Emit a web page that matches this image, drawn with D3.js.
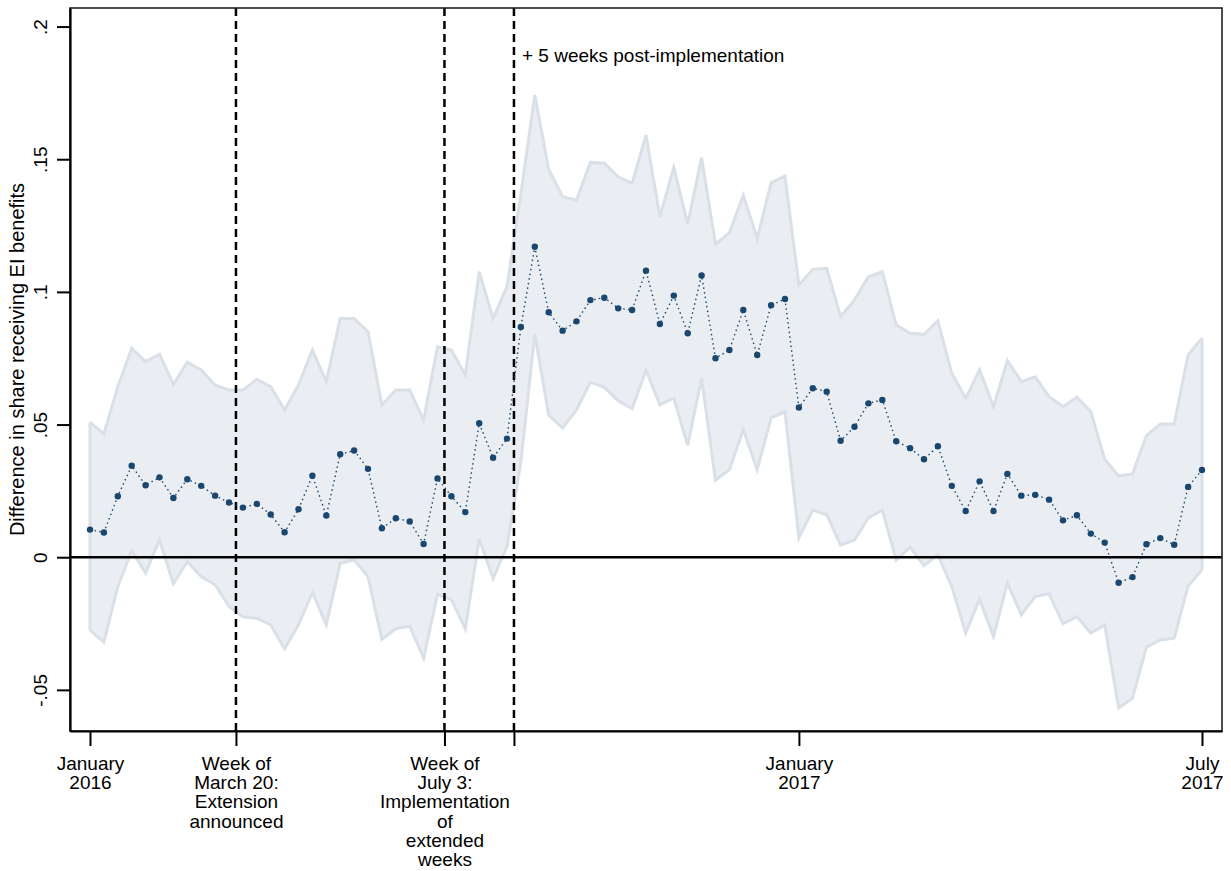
<!DOCTYPE html>
<html>
<head>
<meta charset="utf-8">
<script src="https://cdn.jsdelivr.net/npm/d3@7"></script>
<style>
  html, body { margin: 0; padding: 0; background: #fff; }
  svg { display: block; font-family: "Liberation Sans", Arial, sans-serif; }
</style>
</head>
<body>
<svg id="chart" width="1231" height="871"></svg>
<script>
// Weekly difference in the share receiving EI benefits, Jan 2016 – Jul 2017
const estimate = [
  0.0104, 0.0093, 0.0230, 0.0345, 0.0271, 0.0301, 0.0223, 0.0294, 0.0269, 0.0232,
  0.0206, 0.0187, 0.0201, 0.0161, 0.0094, 0.0181, 0.0307, 0.0157, 0.0388, 0.0402,
  0.0333, 0.0109, 0.0147, 0.0135, 0.0050, 0.0297, 0.0230, 0.0170, 0.0505, 0.0375,
  0.0447, 0.0868, 0.1170, 0.0923, 0.0854, 0.0889, 0.0969, 0.0978, 0.0938, 0.0932,
  0.1080, 0.0879, 0.0986, 0.0844, 0.1062, 0.0750, 0.0781, 0.0932, 0.0762, 0.0950,
  0.0973, 0.0564, 0.0637, 0.0624, 0.0439, 0.0492, 0.0580, 0.0593, 0.0437, 0.0411,
  0.0369, 0.0418, 0.0269, 0.0174, 0.0286, 0.0174, 0.0314, 0.0232, 0.0235, 0.0217,
  0.0139, 0.0158, 0.0089, 0.0055, -0.0096, -0.0075, 0.0049, 0.0072, 0.0047, 0.0265,
  0.0329
];

// Upper bound of the confidence interval
const ciHigh = [
  0.0509, 0.0465, 0.0643, 0.0787, 0.0737, 0.0765, 0.0652, 0.0735, 0.0706, 0.0649,
  0.0630, 0.0630, 0.0671, 0.0643, 0.0555, 0.0649, 0.0781, 0.0662, 0.0900, 0.0900,
  0.0850, 0.0574, 0.0630, 0.0630, 0.0517, 0.0793, 0.0781, 0.0687, 0.1076, 0.0900,
  0.1020, 0.1370, 0.1742, 0.1462, 0.1359, 0.1346, 0.1488, 0.1485, 0.1434, 0.1409,
  0.1591, 0.1283, 0.1469, 0.1256, 0.1506, 0.1180, 0.1223, 0.1365, 0.1201, 0.1411,
  0.1437, 0.1026, 0.1085, 0.1089, 0.0907, 0.0970, 0.1057, 0.1076, 0.0875, 0.0844,
  0.0840, 0.0891, 0.0693, 0.0599, 0.0706, 0.0567, 0.0741, 0.0662, 0.0680, 0.0605,
  0.0567, 0.0603, 0.0549, 0.0369, 0.0306, 0.0314, 0.0458, 0.0502, 0.0502, 0.0762,
  0.0825
];

// Lower bound of the confidence interval
const ciLow = [
  -0.0275, -0.0320, -0.0111, 0.0025, -0.0060, 0.0065, -0.0100, -0.0017, -0.0073, -0.0104,
  -0.0186, -0.0225, -0.0230, -0.0255, -0.0345, -0.0255, -0.0133, -0.0255, -0.0023, -0.0010,
  -0.0073, -0.0310, -0.0270, -0.0260, -0.0380, -0.0140, -0.0160, -0.0270, 0.0070, -0.0080,
  0.0040, 0.0360, 0.0841, 0.0535, 0.0487, 0.0555, 0.0660, 0.0640, 0.0590, 0.0560,
  0.0705, 0.0574, 0.0600, 0.0422, 0.0675, 0.0290, 0.0330, 0.0480, 0.0330, 0.0525,
  0.0548, 0.0073, 0.0178, 0.0160, 0.0046, 0.0065, 0.0148, 0.0178, -0.0010, 0.0038,
  -0.0032, 0.0009, -0.0111, -0.0286, -0.0158, -0.0299, -0.0098, -0.0217, -0.0148, -0.0138,
  -0.0251, -0.0224, -0.0286, -0.0255, -0.0569, -0.0531, -0.0339, -0.0312, -0.0305, -0.0108,
  -0.0048
];

// Y axis ticks
const yTicks = [-0.05, 0, 0.05, 0.1, 0.15, 0.2];
const yTickLabels = ["-.05", "0", ".05", ".1", ".15", ".2"];

// X axis ticks (in weeks since the first week of January 2016)
const xTicks = [0, 10.5, 25.5, 30.5, 51, 80];
const xTickLabels = [
  ["January", "2016"],
  ["Week of", "March 20:", "Extension", "announced"],
  ["Week of", "July 3:", "Implementation", "of", "extended", "weeks"],
  [],
  ["January", "2017"],
  ["July", "2017"]
];

// Policy event markers (dashed vertical lines)
const eventWeeks = [10.5, 25.5, 30.5];
const eventNote = "+ 5 weeks post-implementation";

const yTitle = "Difference in share receiving EI benefits";

const svg = d3.select("#chart");
const plot = { left: 70, right: 1222, top: 8, bottom: 731 };

const x = d3.scaleLinear()
  .domain([-20 / 13.9, 1132 / 13.9])
  .range([plot.left, plot.right]);
const y = d3.scaleLinear()
  .domain([-0.0655, 0.207])
  .range([plot.bottom, plot.top]);

const weeks = d3.range(estimate.length);
const rows = weeks.map(i => ({ w: i, est: estimate[i], lo: ciLow[i], hi: ciHigh[i] }));

svg.append("clipPath").attr("id", "plotclip")
  .append("rect")
  .attr("x", plot.left).attr("y", plot.top)
  .attr("width", plot.right - plot.left).attr("height", plot.bottom - plot.top);

const g = svg.append("g").attr("clip-path", "url(#plotclip)");

// Confidence band
g.append("path")
  .datum(rows)
  .attr("d", d3.area().x(d => x(d.w)).y0(d => y(d.lo)).y1(d => y(d.hi)))
  .attr("fill", "#eaeef2")
  .attr("stroke", "none");
["hi", "lo"].forEach(k => {
  g.append("path")
    .datum(rows)
    .attr("d", d3.line().x(d => x(d.w)).y(d => y(d[k])))
    .attr("fill", "none")
    .attr("stroke", "#d9e0e7")
    .attr("stroke-width", 3)
    .attr("stroke-linejoin", "miter");
});
// closing edges of the band
g.selectAll("line.bandedge")
  .data([rows[0], rows[rows.length - 1]])
  .join("line")
  .attr("class", "bandedge")
  .attr("x1", d => x(d.w)).attr("x2", d => x(d.w))
  .attr("y1", d => y(d.lo)).attr("y2", d => y(d.hi))
  .attr("stroke", "#d9e0e7").attr("stroke-width", 3);

// Zero reference line
g.append("line")
  .attr("x1", plot.left).attr("x2", plot.right)
  .attr("y1", y(0)).attr("y2", y(0))
  .attr("stroke", "#000").attr("stroke-width", 2.4);

// Event lines
g.selectAll("line.event")
  .data(eventWeeks)
  .join("line")
  .attr("class", "event")
  .attr("x1", d => x(d)).attr("x2", d => x(d))
  .attr("y1", plot.top).attr("y2", plot.bottom)
  .attr("stroke", "#000").attr("stroke-width", 2.5)
  .attr("stroke-dasharray", "8,5");

// Dotted connecting line and point markers
g.append("path")
  .datum(rows)
  .attr("d", d3.line().x(d => x(d.w)).y(d => y(d.est)))
  .attr("fill", "none")
  .attr("stroke", "#1a476f")
  .attr("stroke-width", 1.4)
  .attr("stroke-dasharray", "1.5,3.2");
g.selectAll("circle")
  .data(rows)
  .join("circle")
  .attr("cx", d => x(d.w)).attr("cy", d => y(d.est))
  .attr("r", 3.2)
  .attr("fill", "#1a476f");

// Plot frame
svg.append("rect")
  .attr("x", plot.left).attr("y", plot.top)
  .attr("width", plot.right - plot.left).attr("height", plot.bottom - plot.top)
  .attr("fill", "none").attr("stroke", "#222").attr("stroke-width", 1.6);

// Y axis
const yAxis = d3.axisLeft(y)
  .tickValues(yTicks)
  .tickSize(13)
  .tickSizeOuter(0)
  .tickFormat((d, i) => yTickLabels[i]);
const ya = svg.append("g").attr("transform", `translate(${plot.left},0)`).call(yAxis);
ya.select(".domain").attr("stroke", "#000").attr("stroke-width", 2.2);
ya.selectAll(".tick line").attr("stroke", "#000").attr("stroke-width", 2);
ya.selectAll(".tick text")
  .attr("x", null).attr("dy", null)
  .attr("transform", "translate(-23,0) rotate(-90)")
  .attr("text-anchor", "middle")
  .attr("fill", "#000")
  .style("font-size", "19px")
  .style("font-family", "'Liberation Sans', Arial, sans-serif");

// X axis
const xAxis = d3.axisBottom(x)
  .tickValues(xTicks)
  .tickSize(15)
  .tickSizeOuter(0)
  .tickFormat("");
const xa = svg.append("g").attr("transform", `translate(0,${plot.bottom})`).call(xAxis);
xa.select(".domain").attr("stroke", "#000").attr("stroke-width", 2.2);
xa.selectAll(".tick line").attr("stroke", "#000").attr("stroke-width", 2);
xa.selectAll(".tick").each(function (d, i) {
  const t = d3.select(this).append("text")
    .attr("text-anchor", "middle")
    .attr("fill", "#000")
    .style("font-size", "19px")
    .style("font-family", "'Liberation Sans', Arial, sans-serif");
  xTickLabels[i].forEach((line, j) => {
    t.append("tspan").attr("x", 0).attr("y", 39 + j * 19.2).text(line);
  });
});

// Event annotation
svg.append("text")
  .attr("x", x(eventWeeks[2]) + 8)
  .attr("y", 62)
  .attr("fill", "#000")
  .style("font-size", "19px")
  .text(eventNote);

// Y axis title
svg.append("text")
  .attr("transform", `translate(24,${(plot.top + plot.bottom) / 2 - 10}) rotate(-90)`)
  .attr("text-anchor", "middle")
  .attr("fill", "#000")
  .style("font-size", "20px")
  .text(yTitle);
</script>
</body>
</html>
